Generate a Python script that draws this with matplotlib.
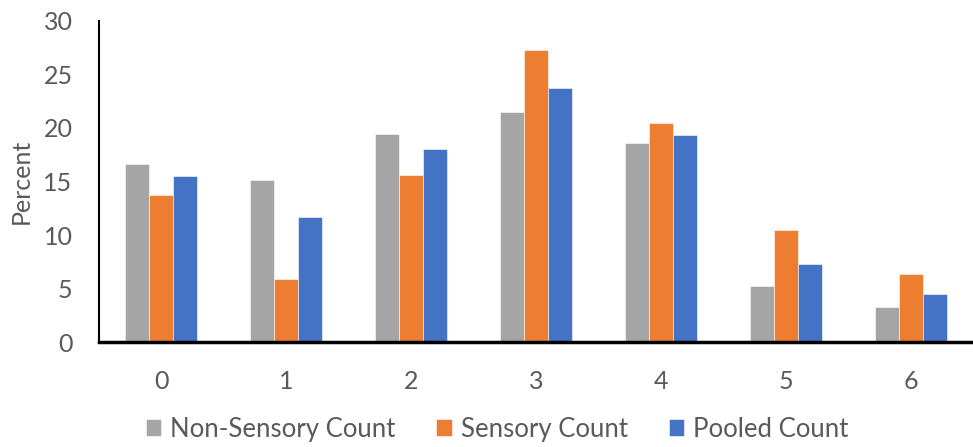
import numpy as np
import matplotlib.pyplot as plt

plt.rcParams['font.family'] = ['Lato', 'DejaVu Sans']

# data
categories = ['0', '1', '2', '3', '4', '5', '6']
non_sensory = [16.6, 15.1, 19.4, 21.5, 18.6, 5.3, 3.3]
sensory = [13.7, 5.9, 15.6, 27.3, 20.5, 10.5, 6.4]
pooled = [15.5, 11.7, 18.0, 23.7, 19.3, 7.3, 4.5]
series_names = ['Non-Sensory Count', 'Sensory Count', 'Pooled Count']
colors = ['#A5A5A5', '#ED7D31', '#4472C4']
text_color = '#595959'

fig = plt.figure(figsize=(9.73, 4.47), dpi=100)
ax = fig.add_axes([0.1017, 0.2338, 0.8983, 0.7201])

x = np.arange(len(categories))
w = 0.192
for i, (vals, name, c) in enumerate(zip([non_sensory, sensory, pooled], series_names, colors)):
    ax.bar(x + (i - 1) * w, vals, width=w, color=c, label=name,
           edgecolor='white', linewidth=0.4)

ax.set_xlim(-0.5, len(categories) - 0.5)
ax.set_ylim(0, 30)
ax.set_yticks(range(0, 31, 5))
ax.set_xticks(x)
ax.set_xticklabels(categories)
ax.tick_params(axis='both', length=0, labelsize=18, colors=text_color)
ax.tick_params(axis='y', pad=19)
ax.tick_params(axis='x', pad=20)
ax.set_ylabel('Percent', fontsize=18, color=text_color, labelpad=8)

for s in ['top', 'right']:
    ax.spines[s].set_visible(False)
ax.spines['left'].set_linewidth(1.5)
ax.spines['bottom'].set_linewidth(2.5)
ax.spines['left'].set_color('black')
ax.spines['bottom'].set_color('black')

leg = fig.legend(loc='center', bbox_to_anchor=(0.511, 0.04), ncol=3, frameon=False,
                 fontsize=18.5, handlelength=0.6, handleheight=0.6, handletextpad=0.35,
                 columnspacing=1.6)
for t in leg.get_texts():
    t.set_color(text_color)

fig.savefig('out.png', dpi=100)
